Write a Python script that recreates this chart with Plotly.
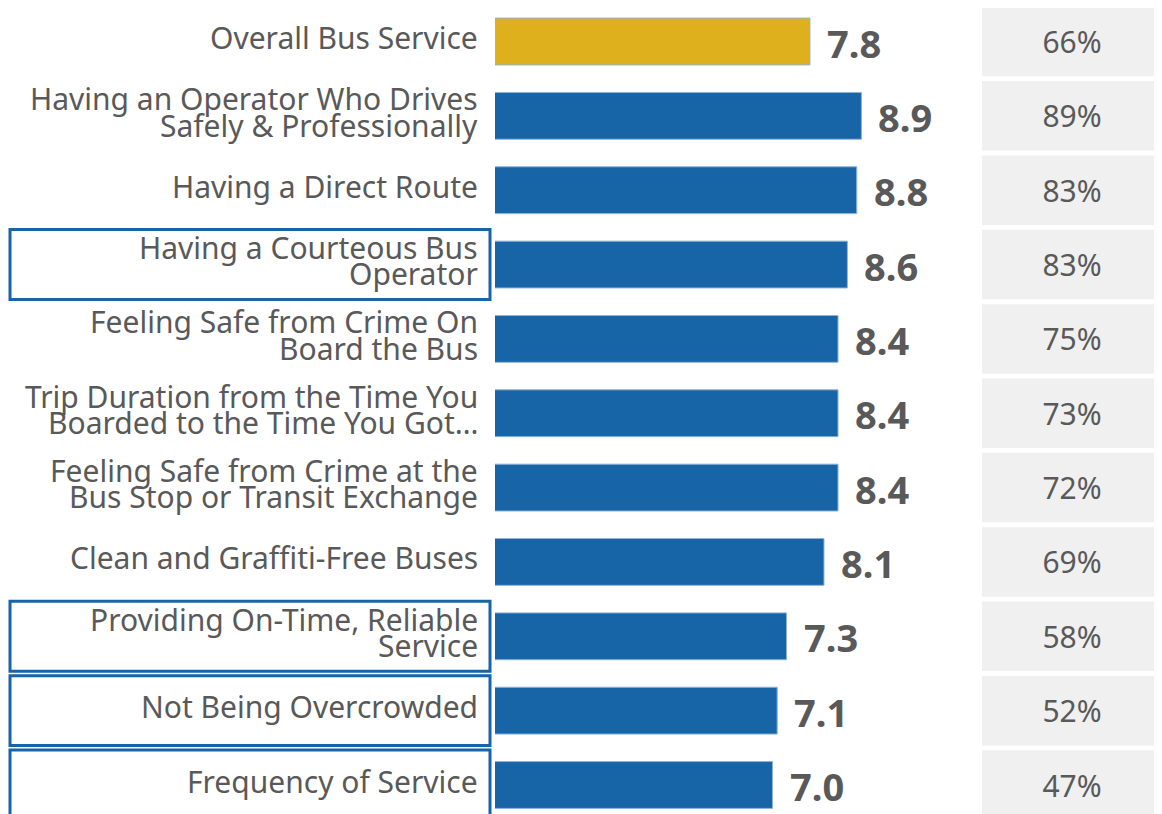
import plotly.graph_objects as go

# ---- data ----
labels = [
    "Overall Bus Service",
    "Having an Operator Who Drives<br>Safely & Professionally",
    "Having a Direct Route",
    "Having a Courteous Bus<br>Operator",
    "Feeling Safe from Crime On<br>Board the Bus",
    "Trip Duration from the Time You<br>Boarded to the Time You Got…",
    "Feeling Safe from Crime at the<br>Bus Stop or Transit Exchange",
    "Clean and Graffiti-Free Buses",
    "Providing On-Time, Reliable<br>Service",
    "Not Being Overcrowded",
    "Frequency of Service",
]
scores = [7.8, 8.9, 8.8, 8.6, 8.4, 8.4, 8.4, 8.1, 7.3, 7.1, 7.0]
pct_satisfied = [66, 89, 83, 83, 75, 73, 72, 69, 58, 52, 47]
highlighted = [
    "Having a Courteous Bus<br>Operator",
    "Providing On-Time, Reliable<br>Service",
    "Not Being Overcrowded",
    "Frequency of Service",
]

GOLD = "#DEB01E"
BLUE = "#1764A6"
GREY_TXT = "#595959"
FONT = "Noto Sans"

# page body adds an 8px margin, so the figure is a bit smaller than the window
W, H = 1154, 806
bar_colors = [GOLD] + [BLUE] * (len(labels) - 1)

fig = go.Figure()

# score bars
fig.add_trace(go.Bar(
    x=scores, y=labels, orientation="h",
    width=0.63,
    marker=dict(color=bar_colors, line=dict(color="#8fb4da", width=1)),
    hoverinfo="skip", showlegend=False,
    xaxis="x", yaxis="y",
))

# grey boxes with % satisfied
fig.add_trace(go.Bar(
    x=[1] * len(labels), y=labels, orientation="h",
    width=0.935,
    marker=dict(color="#F0F0F0", line=dict(width=0)),
    text=[f"{p}%" for p in pct_satisfied],
    textposition="inside", insidetextanchor="middle",
    textfont=dict(family=FONT, size=30, color=GREY_TXT),
    hoverinfo="skip", showlegend=False,
    xaxis="x2", yaxis="y",
))

annotations = []
# score values
for lab, s in zip(labels, scores):
    annotations.append(dict(
        x=s, y=lab, xref="x", yref="y", text=f"<b>{s:.1f}</b>",
        xanchor="left", yanchor="middle", xshift=15, yshift=-1, showarrow=False,
        font=dict(family=FONT, size=38, color=GREY_TXT),
    ))

# category labels (one annotation per line for tight line spacing)
for lab in labels:
    lines = lab.split("<br>")
    n = len(lines)
    for j, ln in enumerate(lines):
        ys = 4 + (n - 1) / 2 * 26.5 - j * 26.5
        annotations.append(dict(
            x=472 / W, y=lab, xref="paper", yref="y", text=ln,
            xanchor="right", yanchor="middle", yshift=ys, showarrow=False,
            font=dict(family=FONT, size=30, color=GREY_TXT),
        ))

shapes = []
for lab in highlighted:
    i = labels.index(lab)
    shapes.append(dict(
        type="rect", xref="paper", yref="y",
        x0=2 / W, x1=482 / W, y0=i - 0.47, y1=i + 0.47,
        line=dict(color=BLUE, width=3), fillcolor="rgba(0,0,0,0)",
    ))

fig.update_layout(
    width=W, height=H,
    margin=dict(l=0, r=0, t=0, b=0),
    paper_bgcolor="white", plot_bgcolor="white",
    barmode="overlay",
    xaxis=dict(domain=[487 / W, 962 / W], range=[1.07, 11.22],
               visible=False, fixedrange=True),
    xaxis2=dict(domain=[974 / W, 1.0], range=[0, 1], anchor="y",
                visible=False, fixedrange=True),
    yaxis=dict(type="category", categoryorder="array", categoryarray=labels,
               range=[10.39, -0.4506], visible=False, fixedrange=True),
    annotations=annotations,
    shapes=shapes,
)

fig.write_html("out.html")
